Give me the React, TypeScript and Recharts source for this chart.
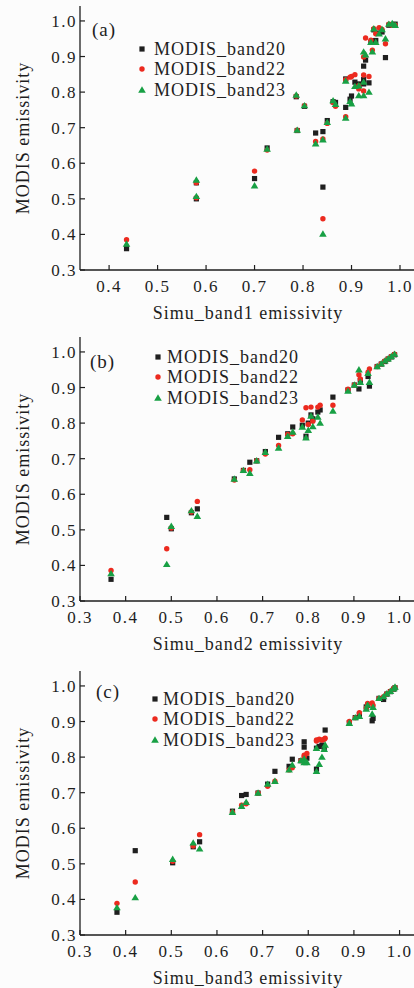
import { ScatterChart, Scatter, XAxis, YAxis, Legend } from "recharts";

const FONT = '"Liberation Serif", "Times New Roman", serif';
const INK = "#1e1e1e";
const BLACK = "#1f1f1f";
const RED = "#ec2a1f";
const GREEN = "#18a044";

const SERIES_NAMES = ["MODIS_band20", "MODIS_band22", "MODIS_band23"];
const Y_TICKS = [0.3, 0.4, 0.5, 0.6, 0.7, 0.8, 0.9, 1.0];
const X_TICKS_A = [0.4, 0.5, 0.6, 0.7, 0.8, 0.9, 1.0];
const X_TICKS_BC = [0.3, 0.4, 0.5, 0.6, 0.7, 0.8, 0.9, 1.0];

// (a) Simu_band1
const simuBand1 = [
  0.436, 0.58, 0.58, 0.7, 0.726, 0.786, 0.788, 0.803, 0.826, 0.841, 0.841, 0.85,
  0.862, 0.867, 0.888, 0.888, 0.897, 0.9, 0.907, 0.915, 0.915, 0.925, 0.925, 0.925,
  0.929, 0.936, 0.94, 0.943, 0.946, 0.95, 0.957, 0.963, 0.97, 0.977, 0.984, 0.99,
];
const band20A = [
  0.36, 0.5, 0.545, 0.557, 0.643, 0.787, 0.692, 0.76, 0.685, 0.689, 0.533, 0.72,
  0.773, 0.771, 0.757, 0.837, 0.78, 0.789, 0.828, 0.823, 0.82, 0.873, 0.835, 0.823,
  0.89, 0.826, 0.94, 0.944, 0.975, 0.945, 0.966, 0.969, 0.897, 0.988, 0.99, 0.991,
];
const band22A = [
  0.385, 0.503, 0.545, 0.578, 0.637, 0.789, 0.693, 0.762, 0.661, 0.668, 0.444, 0.712,
  0.771, 0.76, 0.731, 0.835, 0.842, 0.844, 0.849, 0.809, 0.818, 0.899, 0.848, 0.803,
  0.952, 0.844, 0.946, 0.918, 0.978, 0.964, 0.981, 0.976, 0.936, 0.991, 0.988, 0.988,
];
const band23A = [
  0.373, 0.507, 0.553, 0.537, 0.64, 0.792, 0.693, 0.762, 0.655, 0.666, 0.401, 0.715,
  0.776, 0.766, 0.727, 0.831, 0.774, 0.767, 0.816, 0.79, 0.818, 0.913, 0.828, 0.79,
  0.905, 0.8, 0.94, 0.913, 0.978, 0.94, 0.964, 0.976, 0.95, 0.991, 0.993, 0.988,
];

// (b) Simu_band2
const simuBand2 = [
  0.368, 0.49, 0.5, 0.544, 0.557, 0.638, 0.658, 0.672, 0.687, 0.706, 0.735, 0.755,
  0.766, 0.787, 0.795, 0.8, 0.806, 0.81, 0.821, 0.826, 0.854, 0.887, 0.901, 0.911,
  0.914, 0.931, 0.934, 0.951, 0.96, 0.968, 0.975, 0.982, 0.989,
];
const band20B = [
  0.361, 0.535, 0.503, 0.548, 0.559, 0.643, 0.667, 0.69, 0.694, 0.72, 0.76, 0.77,
  0.789, 0.794, 0.763, 0.8, 0.823, 0.812, 0.831, 0.837, 0.873, 0.893, 0.907, 0.896,
  0.92, 0.931, 0.904, 0.959, 0.966, 0.973, 0.98, 0.986, 0.992,
];
const band22B = [
  0.386, 0.447, 0.505, 0.55, 0.58, 0.64, 0.667, 0.669, 0.694, 0.713, 0.737, 0.768,
  0.77, 0.809, 0.843, 0.796, 0.845, 0.805, 0.845, 0.85, 0.85, 0.895, 0.907, 0.936,
  0.924, 0.943, 0.952, 0.959, 0.967, 0.975, 0.981, 0.987, 0.994,
];
const band23B = [
  0.377, 0.403, 0.51, 0.554, 0.538, 0.643, 0.667, 0.659, 0.694, 0.718, 0.73, 0.763,
  0.775, 0.789, 0.759, 0.78, 0.82, 0.79, 0.817, 0.8, 0.834, 0.89, 0.907, 0.95,
  0.915, 0.94, 0.915, 0.959, 0.967, 0.975, 0.981, 0.987, 0.994,
];

// (c) Simu_band3
const simuBand3 = [
  0.381, 0.421, 0.503, 0.548, 0.562, 0.634, 0.654, 0.664, 0.69, 0.711, 0.727, 0.758,
  0.765, 0.784, 0.791, 0.791, 0.797, 0.818, 0.818, 0.824, 0.83, 0.837, 0.835, 0.89,
  0.903, 0.912, 0.927, 0.93, 0.94, 0.942, 0.955, 0.965, 0.972, 0.98, 0.987, 0.99,
];
const band20C = [
  0.364, 0.537, 0.503, 0.548, 0.562, 0.648, 0.692, 0.695, 0.699, 0.724, 0.76, 0.774,
  0.794, 0.79, 0.843, 0.828, 0.797, 0.766, 0.825, 0.83, 0.834, 0.876, 0.825, 0.897,
  0.911, 0.92, 0.941, 0.945, 0.902, 0.909, 0.965, 0.962, 0.977, 0.984, 0.991, 0.995,
];
const band22C = [
  0.389, 0.449, 0.507, 0.55, 0.582, 0.645, 0.665, 0.669, 0.699, 0.718, 0.732, 0.764,
  0.77, 0.79, 0.8, 0.805, 0.81, 0.845, 0.848, 0.85, 0.848, 0.853, 0.85, 0.9,
  0.911, 0.925, 0.938, 0.951, 0.952, 0.945, 0.965, 0.97, 0.978, 0.985, 0.992, 0.996,
];
const band23C = [
  0.377, 0.405, 0.513, 0.559, 0.542, 0.645, 0.662, 0.673, 0.699, 0.724, 0.732, 0.764,
  0.778, 0.79, 0.795, 0.785, 0.785, 0.76, 0.825, 0.78, 0.8, 0.834, 0.822, 0.895,
  0.911, 0.915, 0.935, 0.946, 0.921, 0.94, 0.965, 0.97, 0.978, 0.985, 0.992, 0.997,
];

const toPoints = (xs: number[], ys: number[]) => xs.map((x, i) => ({ x, y: ys[i] }));

function Square(p: any) {
  return <rect x={p.cx - 2.6} y={p.cy - 2.6} width={5.2} height={5.2} fill={BLACK} />;
}
function Dot(p: any) {
  return <circle cx={p.cx} cy={p.cy} r={2.7} fill={RED} />;
}
function Tri(p: any) {
  const { cx, cy } = p;
  return <path d={`M${cx},${cy - 3.7}L${cx + 3.8},${cy + 2.7}L${cx - 3.8},${cy + 2.7}Z`} fill={GREEN} />;
}

function LegendMarker({ kind }: { kind: number }) {
  return (
    <svg width={10} height={10} style={{ flexShrink: 0 }}>
      {kind === 0 && <rect x={2.4} y={2.4} width={5.2} height={5.2} fill={BLACK} />}
      {kind === 1 && <circle cx={5} cy={5} r={2.7} fill={RED} />}
      {kind === 2 && <path d="M5,1.3L8.8,7.7L1.2,7.7Z" fill={GREEN} />}
    </svg>
  );
}

function LegendBox({ gap }: { gap: number }) {
  return (
    <div style={{ fontFamily: FONT, fontSize: 18, letterSpacing: 1, color: INK }}>
      {SERIES_NAMES.map((name, i) => (
        <div key={name} style={{ display: "flex", alignItems: "center", height: 20.3 }}>
          <LegendMarker kind={i} />
          <span style={{ marginLeft: gap, lineHeight: "20px" }}>{name}</span>
        </div>
      ))}
    </div>
  );
}

interface PanelProps {
  top: number;
  tag: string;
  tagLeft: number;
  tagTop: number;
  title: string;
  simu: number[];
  b20: number[];
  b22: number[];
  b23: number[];
  xDomain: [number, number];
  xTicks: number[];
  legendLeft: number;
  legendTop: number;
  legendGap: number;
}

const tickStyle = { fontFamily: FONT, fontSize: 17, fill: INK, letterSpacing: 1.5 };
const titleStyle = { fontFamily: FONT, fontSize: 18, fill: INK, letterSpacing: 1, textAnchor: "middle" as const };

function Panel(props: PanelProps) {
  const { top, tag, tagLeft, tagTop, title, simu, b20, b22, b23, xDomain, xTicks } = props;
  return (
    <div style={{ position: "absolute", left: 0, top, width: 416, height: 323 }}>
      <ScatterChart width={416} height={323} margin={{ top: 6, right: 0, bottom: 0, left: 0 }}>
        <XAxis
          type="number"
          dataKey="x"
          domain={xDomain}
          ticks={xTicks}
          interval={0}
          tickFormatter={(v: number) => v.toFixed(1)}
          height={53}
          tickSize={-5}
          tickMargin={15}
          tick={tickStyle}
          axisLine={{ stroke: INK, strokeWidth: 1.3 }}
          tickLine={{ stroke: INK, strokeWidth: 1.2 }}
          label={{ value: title, position: "insideBottom", offset: 4, style: titleStyle }}
        />
        <XAxis
          xAxisId="top"
          orientation="top"
          type="number"
          domain={xDomain}
          tick={false}
          tickLine={false}
          height={0}
          axisLine={{ stroke: INK, strokeWidth: 1.3 }}
        />
        <YAxis
          type="number"
          dataKey="y"
          domain={[0.3, 1.042]}
          ticks={Y_TICKS}
          interval={0}
          tickFormatter={(v: number) => v.toFixed(1)}
          width={80}
          tickSize={-5}
          tickMargin={8}
          tick={tickStyle}
          axisLine={{ stroke: INK, strokeWidth: 1.3 }}
          tickLine={{ stroke: INK, strokeWidth: 1.2 }}
          label={{ value: "MODIS emissivity", angle: -90, position: "insideLeft", offset: 23, style: titleStyle }}
        />
        <Legend
          layout="vertical"
          align="center"
          verticalAlign="middle"
          wrapperStyle={{ left: props.legendLeft, top: props.legendTop, width: "auto" }}
          content={() => <LegendBox gap={props.legendGap} />}
        />
        <Scatter name={SERIES_NAMES[0]} data={toPoints(simu, b20)} shape={Square} isAnimationActive={false} />
        <Scatter name={SERIES_NAMES[1]} data={toPoints(simu, b22)} shape={Dot} isAnimationActive={false} />
        <Scatter name={SERIES_NAMES[2]} data={toPoints(simu, b23)} shape={Tri} isAnimationActive={false} />
      </ScatterChart>
      <div
        style={{
          position: "absolute",
          left: tagLeft,
          top: tagTop,
          fontFamily: FONT,
          fontSize: 19,
          letterSpacing: 1,
          lineHeight: "20px",
          color: INK,
        }}
      >
        {tag}
      </div>
    </div>
  );
}

export default function App() {
  return (
    <div
      style={{
        position: "absolute",
        left: 0,
        top: 0,
        width: 414,
        height: 988,
        overflow: "hidden",
        background: "#fcfcfc",
      }}
    >
      <Panel
        top={0}
        tag="(a)"
        tagLeft={92}
        tagTop={20}
        title="Simu_band1 emissivity"
        simu={simuBand1}
        b20={band20A}
        b22={band22A}
        b23={band23A}
        xDomain={[0.34, 1.033]}
        xTicks={X_TICKS_A}
        legendLeft={137}
        legendTop={39}
        legendGap={7}
      />
      <Panel
        top={331}
        tag="(b)"
        tagLeft={90}
        tagTop={21}
        title="Simu_band2 emissivity"
        simu={simuBand2}
        b20={band20B}
        b22={band22B}
        b23={band23B}
        xDomain={[0.3, 1.036]}
        xTicks={X_TICKS_BC}
        legendLeft={153}
        legendTop={16}
        legendGap={4}
      />
      <Panel
        top={665}
        tag="(c)"
        tagLeft={96}
        tagTop={17}
        title="Simu_band3 emissivity"
        simu={simuBand3}
        b20={band20C}
        b22={band22C}
        b23={band23C}
        xDomain={[0.3, 1.036]}
        xTicks={X_TICKS_BC}
        legendLeft={150}
        legendTop={24}
        legendGap={3}
      />
    </div>
  );
}
